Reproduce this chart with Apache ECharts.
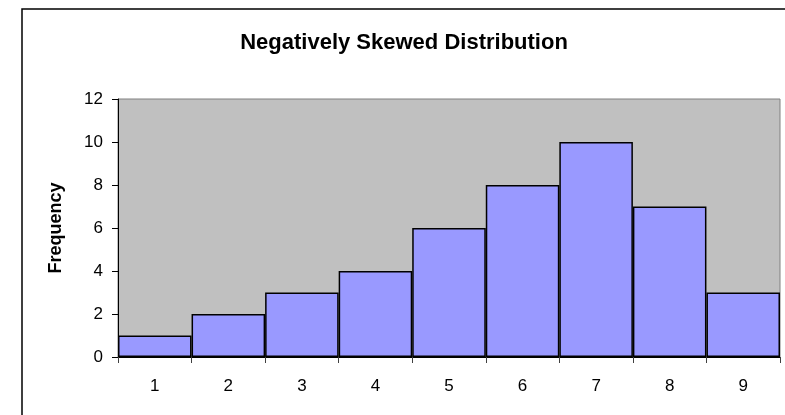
<!DOCTYPE html>
<html>
<head>
<meta charset="utf-8">
<script src="https://cdn.jsdelivr.net/npm/echarts@6/dist/echarts.min.js"></script>
<style>
  html, body { margin: 0; padding: 0; background: #ffffff; }
  #chart { width: 785px; height: 415px; }
</style>
</head>
<body>
<div id="chart"></div>
<script>
// Histogram data: score bins and their frequencies
const categories = ['1', '2', '3', '4', '5', '6', '7', '8', '9'];
const frequencies = [1, 2, 3, 4, 6, 8, 10, 7, 3];
const yTicks = [0, 2, 4, 6, 8, 10, 12];

const chart = echarts.init(document.getElementById('chart'), null, { renderer: 'canvas' });

chart.setOption({
  animation: false,
  backgroundColor: '#ffffff',
  textStyle: { fontFamily: 'Liberation Sans, Arial, sans-serif' },
  graphic: [{
    type: 'rect',
    shape: { x: 22, y: 9, width: 800, height: 420 },
    style: { fill: 'none', stroke: '#000000', lineWidth: 1.5 },
    silent: true
  }],
  title: {
    text: 'Negatively Skewed Distribution',
    left: 399,
    top: 27,
    textAlign: 'center',
    textStyle: { fontSize: 22, fontWeight: 'bold', color: '#000000', fontFamily: 'Liberation Sans, Arial, sans-serif' }
  },
  grid: {
    left: 118, top: 99, right: 5, bottom: 58,
    show: true,
    backgroundColor: '#c0c0c0',
    borderColor: '#808080',
    borderWidth: 1
  },
  xAxis: {
    type: 'category',
    data: categories,
    axisLine: { lineStyle: { color: '#000000', width: 1 } },
    axisTick: { show: true, length: 6, lineStyle: { color: '#404040' } },
    axisLabel: { margin: 21, fontSize: 17, color: '#000000' },
    splitLine: { show: false }
  },
  yAxis: {
    type: 'value',
    min: yTicks[0],
    max: yTicks[yTicks.length - 1],
    interval: yTicks[1] - yTicks[0],
    name: 'Frequency',
    nameLocation: 'middle',
    nameRotate: 90,
    nameGap: 53,
    nameTextStyle: { fontSize: 18, fontWeight: 'bold', color: '#000000' },
    axisLine: { show: true, lineStyle: { color: '#000000', width: 1 } },
    axisTick: { show: true, length: 6, lineStyle: { color: '#000000' } },
    axisLabel: { margin: 15, fontSize: 17, color: '#000000' },
    splitLine: { show: false }
  },
  series: [{
    type: 'bar',
    data: frequencies,
    barCategoryGap: '0%',
    itemStyle: { color: '#9999ff', borderColor: '#000000', borderWidth: 1.5 }
  }]
});
</script>
</body>
</html>
